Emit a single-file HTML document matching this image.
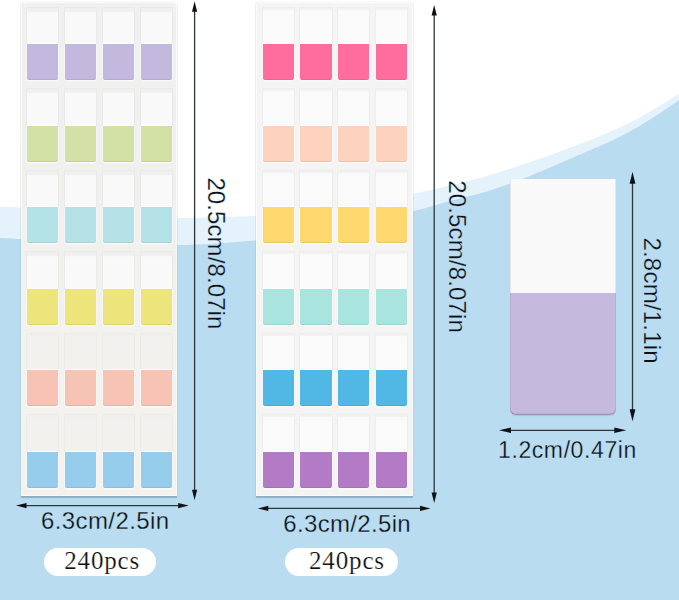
<!DOCTYPE html>
<html><head><meta charset="utf-8">
<style>
html,body{margin:0;padding:0;}
body{width:679px;height:600px;overflow:hidden;position:relative;background:#fff;font-family:"Liberation Sans",sans-serif;}
svg.bg{position:absolute;left:0;top:0;}
.panel{position:absolute;background:linear-gradient(#f0f0f0,#f0f0ef 40%,#f3f2ee 75%,#f3f2ee);border-radius:2px 2px 0 0;box-shadow:inset 0 0 0 1px rgba(255,255,255,0.6), 0 0 0 0.6px rgba(0,0,0,0.06), 0 1.5px 1px rgba(40,70,90,0.28);}
.p2{background:#f4f4f4;}
.t2 .tw{background:linear-gradient(#f1f1f1 0,#f3f3f3 1.8px,#fafafa 2.6px);}
.tab{position:absolute;height:72.2px;}
.tw{--w:#f8f8f8;position:absolute;left:0;top:0;right:0;height:36.3px;background:linear-gradient(#efefef 0,#f1f1f1 3.5px,var(--w) 4.8px);box-shadow:0 0 0 0.8px rgba(0,0,0,0.035);}
.tc{position:absolute;left:0;top:36.3px;right:0;height:35.9px;border-radius:0 0 2px 2px;box-shadow:inset 0 -1px 0 rgba(0,0,0,0.07), 0 0.8px 0 0.6px rgba(255,255,255,0.6), 0 -1px 0 rgba(255,255,255,0.8);}
.pill{position:absolute;background:#fff;border-radius:15px;}
.single{position:absolute;left:509.5px;top:178.6px;width:106.9px;height:236.9px;border-radius:0 0 6px 6px;overflow:hidden;box-shadow:0 0.5px 1px rgba(0,0,0,0.1);}
.single .rim{position:absolute;left:0;top:0;right:0;bottom:0;border-radius:0 0 6px 6px;box-shadow:inset 0 -1.3px 0.6px rgba(70,60,120,0.32), inset 0.8px 0 0.5px rgba(70,60,120,0.12), inset -0.8px 0 0.5px rgba(70,60,120,0.12);}
.single .w{position:absolute;left:0;top:0;right:0;height:114.8px;background:#f9f9f9;}
.single .c{position:absolute;left:0;top:114.8px;right:0;bottom:0;background:#c5badd;}
</style></head><body>
<svg class="bg" width="679" height="600" viewBox="0 0 679 600">
<path d="M0,600 L0,206.5 L6,206.8 L12,207.1 L18,207.4 L24,207.7 L30,208.1 L36,208.5 L42,209.0 L48,209.4 L54,209.9 L60,210.4 L66,210.9 L72,211.5 L78,212.0 L84,212.6 L90,213.1 L96,213.6 L102,214.1 L108,214.6 L114,215.1 L120,215.6 L126,216.0 L132,216.4 L138,216.8 L144,217.1 L150,217.4 L156,217.6 L162,217.8 L168,217.9 L174,218.0 L180,218.0 L186,218.0 L192,217.9 L198,217.8 L204,217.7 L210,217.6 L216,217.4 L222,217.2 L228,217.0 L234,216.8 L240,216.6 L246,216.4 L252,216.1 L258,215.9 L264,215.6 L270,215.2 L276,214.7 L282,214.2 L288,213.6 L294,213.0 L300,212.3 L306,211.6 L312,210.8 L318,210.0 L324,209.2 L330,208.3 L336,207.3 L342,206.4 L348,205.4 L354,204.3 L360,203.3 L366,202.2 L372,201.2 L378,200.1 L384,199.0 L390,197.9 L396,196.8 L402,195.7 L408,194.6 L414,193.5 L420,192.3 L426,191.1 L432,189.7 L438,188.3 L444,186.9 L450,185.5 L456,184.1 L462,182.6 L468,181.2 L474,179.6 L480,178.0 L486,176.3 L492,174.5 L498,172.6 L504,170.6 L510,168.7 L516,166.7 L522,164.7 L528,162.7 L534,160.7 L540,158.6 L546,156.5 L552,154.4 L558,152.2 L564,150.0 L570,147.8 L576,145.5 L582,143.2 L588,140.9 L594,138.5 L600,136.1 L606,133.6 L612,131.0 L618,128.3 L624,125.5 L630,122.5 L636,119.4 L642,116.2 L648,112.8 L654,109.3 L660,105.7 L666,102.0 L672,98.1 L678,94.2 L679,93.5 L679,600 Z" fill="#e4f2fb"/>
<path d="M0,600 L0,238.0 L6,238.3 L12,238.6 L18,238.9 L24,239.2 L30,239.5 L36,239.8 L42,240.1 L48,240.4 L54,240.7 L60,241.0 L66,241.3 L72,241.6 L78,241.9 L84,242.2 L90,242.5 L96,242.8 L102,243.0 L108,243.3 L114,243.6 L120,243.8 L126,244.0 L132,244.2 L138,244.4 L144,244.6 L150,244.7 L156,244.8 L162,244.9 L168,245.0 L174,245.0 L180,245.0 L186,244.9 L192,244.8 L198,244.5 L204,244.3 L210,243.9 L216,243.6 L222,243.1 L228,242.7 L234,242.2 L240,241.7 L246,241.3 L252,240.7 L258,240.2 L264,239.7 L270,239.0 L276,238.3 L282,237.6 L288,236.8 L294,235.9 L300,234.9 L306,234.0 L312,232.9 L318,231.9 L324,230.8 L330,229.6 L336,228.4 L342,227.2 L348,225.9 L354,224.7 L360,223.4 L366,222.0 L372,220.7 L378,219.3 L384,218.0 L390,216.6 L396,215.2 L402,213.8 L408,212.4 L414,211.0 L420,209.5 L426,207.9 L432,206.1 L438,204.4 L444,202.6 L450,201.0 L456,199.5 L462,198.1 L468,196.6 L474,195.1 L480,193.5 L486,191.7 L492,189.8 L498,187.8 L504,185.7 L510,183.5 L516,181.2 L522,179.0 L528,176.7 L534,174.3 L540,171.8 L546,169.2 L552,166.7 L558,164.0 L564,161.4 L570,158.8 L576,156.2 L582,153.7 L588,151.1 L594,148.5 L600,145.9 L606,143.2 L612,140.5 L618,137.6 L624,134.5 L630,131.3 L636,128.0 L642,124.5 L648,120.8 L654,117.0 L660,113.1 L666,109.1 L672,105.0 L678,100.7 L679,100.0 L679,600 Z" fill="#badcf0"/>
</svg>
<div class="panel p1" style="left:21px;top:1.7px;width:156.3px;height:494.1px"></div>
<div class="tab t1" style="left:27.0px;top:7.9px;width:31.3px"><div class="tw" style="--w:#f9f9f9"></div><div class="tc" style="background:#c3b9de"></div></div>
<div class="tab t1" style="left:64.9px;top:7.9px;width:31.3px"><div class="tw" style="--w:#f9f9f9"></div><div class="tc" style="background:#c3b9de"></div></div>
<div class="tab t1" style="left:102.8px;top:7.9px;width:31.3px"><div class="tw" style="--w:#f9f9f9"></div><div class="tc" style="background:#c3b9de"></div></div>
<div class="tab t1" style="left:140.7px;top:7.9px;width:31.3px"><div class="tw" style="--w:#f9f9f9"></div><div class="tc" style="background:#c3b9de"></div></div>
<div class="tab t1" style="left:27.0px;top:89.4px;width:31.3px"><div class="tw" style="--w:#f9f9f9"></div><div class="tc" style="background:#d3e0a6"></div></div>
<div class="tab t1" style="left:64.9px;top:89.4px;width:31.3px"><div class="tw" style="--w:#f9f9f9"></div><div class="tc" style="background:#d3e0a6"></div></div>
<div class="tab t1" style="left:102.8px;top:89.4px;width:31.3px"><div class="tw" style="--w:#f9f9f9"></div><div class="tc" style="background:#d3e0a6"></div></div>
<div class="tab t1" style="left:140.7px;top:89.4px;width:31.3px"><div class="tw" style="--w:#f9f9f9"></div><div class="tc" style="background:#d3e0a6"></div></div>
<div class="tab t1" style="left:27.0px;top:170.9px;width:31.3px"><div class="tw" style="--w:#f9f9f9"></div><div class="tc" style="background:#b4e2e7"></div></div>
<div class="tab t1" style="left:64.9px;top:170.9px;width:31.3px"><div class="tw" style="--w:#f9f9f9"></div><div class="tc" style="background:#b4e2e7"></div></div>
<div class="tab t1" style="left:102.8px;top:170.9px;width:31.3px"><div class="tw" style="--w:#f9f9f9"></div><div class="tc" style="background:#b4e2e7"></div></div>
<div class="tab t1" style="left:140.7px;top:170.9px;width:31.3px"><div class="tw" style="--w:#f9f9f9"></div><div class="tc" style="background:#b4e2e7"></div></div>
<div class="tab t1" style="left:27.0px;top:252.4px;width:31.3px"><div class="tw" style="--w:#f9f9f9"></div><div class="tc" style="background:#ede47b"></div></div>
<div class="tab t1" style="left:64.9px;top:252.4px;width:31.3px"><div class="tw" style="--w:#f9f9f9"></div><div class="tc" style="background:#ede47b"></div></div>
<div class="tab t1" style="left:102.8px;top:252.4px;width:31.3px"><div class="tw" style="--w:#f9f9f9"></div><div class="tc" style="background:#ede47b"></div></div>
<div class="tab t1" style="left:140.7px;top:252.4px;width:31.3px"><div class="tw" style="--w:#f9f9f9"></div><div class="tc" style="background:#ede47b"></div></div>
<div class="tab t1" style="left:27.0px;top:333.9px;width:31.3px"><div class="tw" style="--w:#f2f1ed"></div><div class="tc" style="background:#f6c3b4"></div></div>
<div class="tab t1" style="left:64.9px;top:333.9px;width:31.3px"><div class="tw" style="--w:#f2f1ed"></div><div class="tc" style="background:#f6c3b4"></div></div>
<div class="tab t1" style="left:102.8px;top:333.9px;width:31.3px"><div class="tw" style="--w:#f2f1ed"></div><div class="tc" style="background:#f6c3b4"></div></div>
<div class="tab t1" style="left:140.7px;top:333.9px;width:31.3px"><div class="tw" style="--w:#f2f1ed"></div><div class="tc" style="background:#f6c3b4"></div></div>
<div class="tab t1" style="left:27.0px;top:415.4px;width:31.3px"><div class="tw" style="--w:#f2f1ed"></div><div class="tc" style="background:#97cdec"></div></div>
<div class="tab t1" style="left:64.9px;top:415.4px;width:31.3px"><div class="tw" style="--w:#f2f1ed"></div><div class="tc" style="background:#97cdec"></div></div>
<div class="tab t1" style="left:102.8px;top:415.4px;width:31.3px"><div class="tw" style="--w:#f2f1ed"></div><div class="tc" style="background:#97cdec"></div></div>
<div class="tab t1" style="left:140.7px;top:415.4px;width:31.3px"><div class="tw" style="--w:#f2f1ed"></div><div class="tc" style="background:#97cdec"></div></div>
<div class="panel p2" style="left:256px;top:1.5px;width:156.6px;height:494.2px"></div>
<div class="tab t2" style="left:262.5px;top:7.9px;width:31.2px"><div class="tw"></div><div class="tc" style="background:#fe6d9e"></div></div>
<div class="tab t2" style="left:300.4px;top:7.9px;width:31.2px"><div class="tw"></div><div class="tc" style="background:#fe6d9e"></div></div>
<div class="tab t2" style="left:338.3px;top:7.9px;width:31.2px"><div class="tw"></div><div class="tc" style="background:#fe6d9e"></div></div>
<div class="tab t2" style="left:376.2px;top:7.9px;width:31.2px"><div class="tw"></div><div class="tc" style="background:#fe6d9e"></div></div>
<div class="tab t2" style="left:262.5px;top:89.4px;width:31.2px"><div class="tw"></div><div class="tc" style="background:#fdd3bd"></div></div>
<div class="tab t2" style="left:300.4px;top:89.4px;width:31.2px"><div class="tw"></div><div class="tc" style="background:#fdd3bd"></div></div>
<div class="tab t2" style="left:338.3px;top:89.4px;width:31.2px"><div class="tw"></div><div class="tc" style="background:#fdd3bd"></div></div>
<div class="tab t2" style="left:376.2px;top:89.4px;width:31.2px"><div class="tw"></div><div class="tc" style="background:#fdd3bd"></div></div>
<div class="tab t2" style="left:262.5px;top:170.9px;width:31.2px"><div class="tw"></div><div class="tc" style="background:#fcd86e"></div></div>
<div class="tab t2" style="left:300.4px;top:170.9px;width:31.2px"><div class="tw"></div><div class="tc" style="background:#fcd86e"></div></div>
<div class="tab t2" style="left:338.3px;top:170.9px;width:31.2px"><div class="tw"></div><div class="tc" style="background:#fcd86e"></div></div>
<div class="tab t2" style="left:376.2px;top:170.9px;width:31.2px"><div class="tw"></div><div class="tc" style="background:#fcd86e"></div></div>
<div class="tab t2" style="left:262.5px;top:252.4px;width:31.2px"><div class="tw"></div><div class="tc" style="background:#a9e5de"></div></div>
<div class="tab t2" style="left:300.4px;top:252.4px;width:31.2px"><div class="tw"></div><div class="tc" style="background:#a9e5de"></div></div>
<div class="tab t2" style="left:338.3px;top:252.4px;width:31.2px"><div class="tw"></div><div class="tc" style="background:#a9e5de"></div></div>
<div class="tab t2" style="left:376.2px;top:252.4px;width:31.2px"><div class="tw"></div><div class="tc" style="background:#a9e5de"></div></div>
<div class="tab t2" style="left:262.5px;top:333.9px;width:31.2px"><div class="tw"></div><div class="tc" style="background:#51b7e5"></div></div>
<div class="tab t2" style="left:300.4px;top:333.9px;width:31.2px"><div class="tw"></div><div class="tc" style="background:#51b7e5"></div></div>
<div class="tab t2" style="left:338.3px;top:333.9px;width:31.2px"><div class="tw"></div><div class="tc" style="background:#51b7e5"></div></div>
<div class="tab t2" style="left:376.2px;top:333.9px;width:31.2px"><div class="tw"></div><div class="tc" style="background:#51b7e5"></div></div>
<div class="tab t2" style="left:262.5px;top:415.4px;width:31.2px"><div class="tw"></div><div class="tc" style="background:#b37bc5"></div></div>
<div class="tab t2" style="left:300.4px;top:415.4px;width:31.2px"><div class="tw"></div><div class="tc" style="background:#b37bc5"></div></div>
<div class="tab t2" style="left:338.3px;top:415.4px;width:31.2px"><div class="tw"></div><div class="tc" style="background:#b37bc5"></div></div>
<div class="tab t2" style="left:376.2px;top:415.4px;width:31.2px"><div class="tw"></div><div class="tc" style="background:#b37bc5"></div></div>
<div class="single"><div class="w"></div><div class="c"></div><div class="rim"></div></div>
<svg class="bg" width="679" height="600" viewBox="0 0 679 600">
<path d="M194.6,10.8 L194.6,490.8" stroke="#2c363d" stroke-width="1.3" fill="none"/>
<path d="M194.6,1.3 L192.0,11.8 L197.2,11.8 Z" fill="#0e1216"/>
<path d="M194.6,500.3 L192.0,489.8 L197.2,489.8 Z" fill="#0e1216"/>
<path d="M25.5,505.6 L179.2,505.6" stroke="#2c363d" stroke-width="1.3" fill="none"/>
<path d="M16,505.6 L26.5,503.0 L26.5,508.20000000000005 Z" fill="#0e1216"/>
<path d="M188.7,505.6 L178.2,503.0 L178.2,508.20000000000005 Z" fill="#0e1216"/>
<path d="M434.2,14.5 L434.2,493.5" stroke="#2c363d" stroke-width="1.3" fill="none"/>
<path d="M434.2,5 L431.59999999999997,15.5 L436.8,15.5 Z" fill="#0e1216"/>
<path d="M434.2,503 L431.59999999999997,492.5 L436.8,492.5 Z" fill="#0e1216"/>
<path d="M267.3,508.4 L421.0,508.4" stroke="#2c363d" stroke-width="1.3" fill="none"/>
<path d="M257.8,508.4 L268.3,505.79999999999995 L268.3,511.0 Z" fill="#0e1216"/>
<path d="M430.5,508.4 L420.0,505.79999999999995 L420.0,511.0 Z" fill="#0e1216"/>
<path d="M632.5,182.7 L632.5,410.3" stroke="#2c363d" stroke-width="1.3" fill="none"/>
<path d="M632.5,171.7 L629.6,183.7 L635.4,183.7 Z" fill="#0e1216"/>
<path d="M632.5,421.3 L629.6,409.3 L635.4,409.3 Z" fill="#0e1216"/>
<path d="M510,430.3 L615.3,430.3" stroke="#2c363d" stroke-width="1.3" fill="none"/>
<path d="M499,430.3 L511,427.5 L511,433.1 Z" fill="#0e1216"/>
<path d="M626.3,430.3 L614.3,427.5 L614.3,433.1 Z" fill="#0e1216"/>
</svg>
<div class="pill" style="left:43.8px;top:547.6px;width:112.2px;height:28.4px"></div>
<div class="pill" style="left:285.4px;top:548px;width:112.6px;height:27.5px"></div>
<svg class="bg" width="679" height="600" viewBox="0 0 679 600">
<defs><pattern id="bgp" patternUnits="userSpaceOnUse" x="0" y="0" width="679" height="600">
<rect width="679" height="600" fill="#fff"/>
<path d="M0,600 L0,206.5 L6,206.8 L12,207.1 L18,207.4 L24,207.7 L30,208.1 L36,208.5 L42,209.0 L48,209.4 L54,209.9 L60,210.4 L66,210.9 L72,211.5 L78,212.0 L84,212.6 L90,213.1 L96,213.6 L102,214.1 L108,214.6 L114,215.1 L120,215.6 L126,216.0 L132,216.4 L138,216.8 L144,217.1 L150,217.4 L156,217.6 L162,217.8 L168,217.9 L174,218.0 L180,218.0 L186,218.0 L192,217.9 L198,217.8 L204,217.7 L210,217.6 L216,217.4 L222,217.2 L228,217.0 L234,216.8 L240,216.6 L246,216.4 L252,216.1 L258,215.9 L264,215.6 L270,215.2 L276,214.7 L282,214.2 L288,213.6 L294,213.0 L300,212.3 L306,211.6 L312,210.8 L318,210.0 L324,209.2 L330,208.3 L336,207.3 L342,206.4 L348,205.4 L354,204.3 L360,203.3 L366,202.2 L372,201.2 L378,200.1 L384,199.0 L390,197.9 L396,196.8 L402,195.7 L408,194.6 L414,193.5 L420,192.3 L426,191.1 L432,189.7 L438,188.3 L444,186.9 L450,185.5 L456,184.1 L462,182.6 L468,181.2 L474,179.6 L480,178.0 L486,176.3 L492,174.5 L498,172.6 L504,170.6 L510,168.7 L516,166.7 L522,164.7 L528,162.7 L534,160.7 L540,158.6 L546,156.5 L552,154.4 L558,152.2 L564,150.0 L570,147.8 L576,145.5 L582,143.2 L588,140.9 L594,138.5 L600,136.1 L606,133.6 L612,131.0 L618,128.3 L624,125.5 L630,122.5 L636,119.4 L642,116.2 L648,112.8 L654,109.3 L660,105.7 L666,102.0 L672,98.1 L678,94.2 L679,93.5 L679,600 Z" fill="#e4f2fb"/>
<path d="M0,600 L0,238.0 L6,238.3 L12,238.6 L18,238.9 L24,239.2 L30,239.5 L36,239.8 L42,240.1 L48,240.4 L54,240.7 L60,241.0 L66,241.3 L72,241.6 L78,241.9 L84,242.2 L90,242.5 L96,242.8 L102,243.0 L108,243.3 L114,243.6 L120,243.8 L126,244.0 L132,244.2 L138,244.4 L144,244.6 L150,244.7 L156,244.8 L162,244.9 L168,245.0 L174,245.0 L180,245.0 L186,244.9 L192,244.8 L198,244.5 L204,244.3 L210,243.9 L216,243.6 L222,243.1 L228,242.7 L234,242.2 L240,241.7 L246,241.3 L252,240.7 L258,240.2 L264,239.7 L270,239.0 L276,238.3 L282,237.6 L288,236.8 L294,235.9 L300,234.9 L306,234.0 L312,232.9 L318,231.9 L324,230.8 L330,229.6 L336,228.4 L342,227.2 L348,225.9 L354,224.7 L360,223.4 L366,222.0 L372,220.7 L378,219.3 L384,218.0 L390,216.6 L396,215.2 L402,213.8 L408,212.4 L414,211.0 L420,209.5 L426,207.9 L432,206.1 L438,204.4 L444,202.6 L450,201.0 L456,199.5 L462,198.1 L468,196.6 L474,195.1 L480,193.5 L486,191.7 L492,189.8 L498,187.8 L504,185.7 L510,183.5 L516,181.2 L522,179.0 L528,176.7 L534,174.3 L540,171.8 L546,169.2 L552,166.7 L558,164.0 L564,161.4 L570,158.8 L576,156.2 L582,153.7 L588,151.1 L594,148.5 L600,145.9 L606,143.2 L612,140.5 L618,137.6 L624,134.5 L630,131.3 L636,128.0 L642,124.5 L648,120.8 L654,117.0 L660,113.1 L666,109.1 L672,105.0 L678,100.7 L679,100.0 L679,600 Z" fill="#badcf0"/>
</pattern></defs>
<g font-family="Liberation Sans" font-size="24" fill="#0b1118" stroke="url(#bgp)" stroke-width="0.28">
<text transform="translate(207.68,177.4) rotate(90)" style="letter-spacing:0.1px">20.5cm/8.07in</text>
<text transform="translate(448.88,180.2) rotate(90)" style="letter-spacing:0.16px">20.5cm/8.07in</text>
<text transform="translate(643.68,237.4) rotate(90)" style="letter-spacing:0.22px">2.8cm/1.1in</text>
<text x="41" y="529.32" style="letter-spacing:0.4px">6.3cm/2.5in</text>
<text x="283.3" y="531.92" style="letter-spacing:0.33px">6.3cm/2.5in</text>
<text x="498" y="458.27" font-size="23" style="letter-spacing:0.6px">1.2cm/0.47in</text>
</g>
<g font-family="Liberation Serif" font-size="25" fill="#111111" stroke="#fff" stroke-width="0.2" style="letter-spacing:0.85px">
<text x="64.2" y="569.08">240pcs</text>
<text x="309" y="568.88">240pcs</text>
</g>
</svg>
</body></html>
